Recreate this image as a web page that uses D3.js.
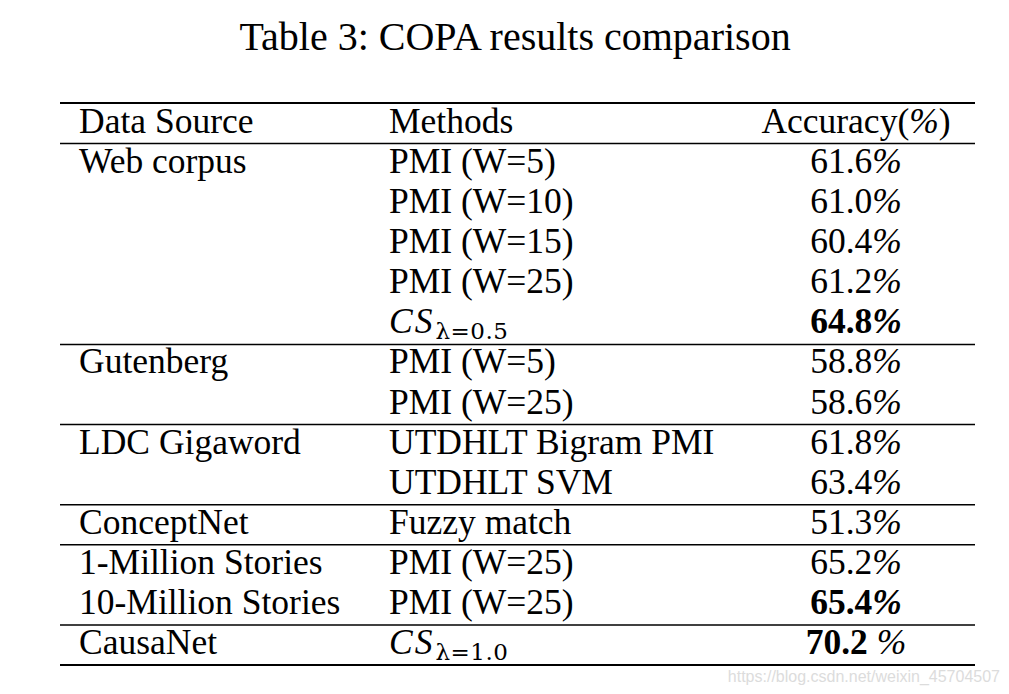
<!DOCTYPE html>
<html><head><meta charset="utf-8">
<script src="https://cdn.jsdelivr.net/npm/d3@7"></script>
<style>html,body{margin:0;padding:0;background:#fff;}svg{display:block;}</style>
</head><body>
<script>
const title = "Table 3: COPA results comparison";
const headers = ["Data Source", "Methods", "Accuracy(%)"];
const sources = ["Web corpus", "", "", "", "", "Gutenberg", "", "LDC Gigaword", "", "ConceptNet", "1-Million Stories", "10-Million Stories", "CausaNet"];
const methods = ["PMI (W=5)", "PMI (W=10)", "PMI (W=15)", "PMI (W=25)", "CS|λ=0.5", "PMI (W=5)", "PMI (W=25)", "UTDHLT Bigram PMI", "UTDHLT SVM", "Fuzzy match", "PMI (W=25)", "PMI (W=25)", "CS|λ=1.0"];
const accuracy = ["61.6%", "61.0%", "60.4%", "61.2%", "64.8%", "58.8%", "58.6%", "61.8%", "63.4%", "51.3%", "65.2%", "65.4%", "70.2 %"];
const boldRows = [4, 11, 12];
const groupEnds = [4, 6, 8, 9, 11]; // separator after these rows
const watermark = "https://blog.csdn.net/weixin_45704507";

const W = 1009, H = 694;
const svg = d3.select("body").append("svg").attr("width", W).attr("height", H);
const font = "'Liberation Serif', 'Times New Roman', serif";
const FS = 35.5;

svg.append("text").attr("x", 515).attr("y", 50).attr("text-anchor", "middle")
  .attr("font-family", font).attr("font-size", 40).attr("fill", "#000").text(title);

// row scale: index 0 = header, 1..13 = data rows
const y = d3.scaleLinear().domain([0, 13]).range([133, 654]);
const xL = 60, xR = 975;
const colX = [79, 389, 856];

function hline(yy, w) {
  svg.append("line").attr("x1", xL).attr("x2", xR).attr("y1", yy).attr("y2", yy)
    .attr("stroke", "#000").attr("stroke-width", w);
}
hline(103, 2);
hline(y(0) + 10.5, 1.5);
groupEnds.forEach(i => hline(y(i + 1) + 11, 1.5));
hline(665, 2);

function pctText(t, s, bold) {
  const idx = s.indexOf("%");
  const head = s.slice(0, idx);
  const spaced = head.endsWith(" ");
  t.append("tspan").attr("font-weight", bold ? "bold" : "normal").text(head.trim());
  t.append("tspan").attr("font-style", "italic").attr("dx", spaced ? 9 : 0)
    .attr("font-weight", bold && !spaced ? "bold" : "normal").text("%");
}

// header
headers.forEach((h, k) => {
  const t = svg.append("text").attr("x", colX[k]).attr("y", y(0))
    .attr("text-anchor", k === 2 ? "middle" : "start")
    .attr("font-family", font).attr("font-size", FS).attr("fill", "#000");
  if (k === 2) {
    t.append("tspan").text("Accuracy(");
    t.append("tspan").attr("font-style", "italic").text("%");
    t.append("tspan").text(")");
  } else t.text(h);
});

const rows = d3.range(sources.length);
const g = svg.selectAll("g.row").data(rows).join("g").attr("class", "row")
  .attr("transform", i => `translate(0,${y(i + 1)})`);

g.append("text").attr("x", colX[0]).attr("font-family", font).attr("font-size", FS)
  .attr("fill", "#000").text(i => sources[i]);

g.each(function(i) {
  const sel = d3.select(this);
  const m = methods[i];
  const t = sel.append("text").attr("x", colX[1]).attr("font-family", font)
    .attr("font-size", FS).attr("fill", "#000");
  if (m.includes("|")) {
    const [main, sub] = m.split("|");
    t.append("tspan").attr("font-style", "italic").attr("letter-spacing", 2).text(main);
    t.append("tspan").attr("font-family", "'DejaVu Serif', serif").attr("font-size", 23)
      .attr("letter-spacing", 0.5).attr("dy", 6).attr("dx", 1).text(sub);
  } else {
    t.text(m);
  }
  const a = sel.append("text").attr("x", colX[2]).attr("text-anchor", "middle")
    .attr("font-family", font).attr("font-size", FS).attr("fill", "#000");
  pctText(a, accuracy[i], boldRows.includes(i));
});

svg.append("text").attr("x", 1000).attr("y", 682).attr("text-anchor", "end")
  .attr("font-family", "'Liberation Sans', Arial, sans-serif").attr("font-size", 16)
  .attr("fill", "#dcdcdc").text(watermark);
</script>
</body></html>
